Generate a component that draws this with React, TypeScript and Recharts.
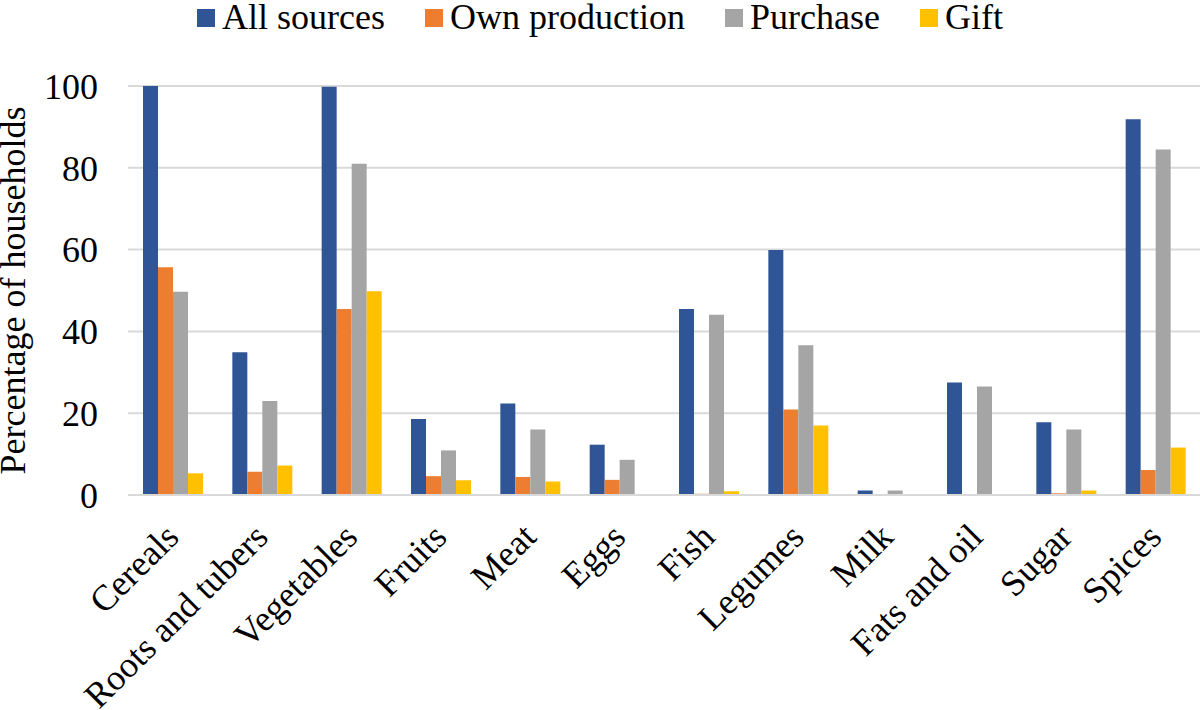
import { BarChart, Bar, XAxis, YAxis, CartesianGrid, Label } from "recharts";

const categories = [
  "Cereals",
  "Roots and tubers",
  "Vegetables",
  "Fruits",
  "Meat",
  "Eggs",
  "Fish",
  "Legumes",
  "Milk",
  "Fats and oil",
  "Sugar",
  "Spices",
];

const allSources = [100, 34.9, 99.8, 18.6, 22.4, 12.3, 45.5, 59.9, 1.1, 27.5, 17.8, 91.9];
const ownProduction = [55.7, 5.7, 45.5, 4.6, 4.4, 3.7, 0.3, 20.9, 0, 0, 0.4, 6.1];
const purchase = [49.7, 23.0, 81.0, 10.9, 16.0, 8.6, 44.1, 36.6, 1.1, 26.5, 16.0, 84.5];
const gift = [5.3, 7.2, 49.8, 3.6, 3.3, 0, 0.9, 17.0, 0, 0, 1.1, 11.6];

const yTicks = [0, 20, 40, 60, 80, 100];

const series = [
  { key: "all", name: "All sources", color: "#2F5597" },
  { key: "own", name: "Own production", color: "#ED7D31" },
  { key: "purchase", name: "Purchase", color: "#A5A5A5" },
  { key: "gift", name: "Gift", color: "#FFC000" },
];

const data = categories.map((name, i) => ({
  name,
  all: allSources[i],
  own: ownProduction[i],
  purchase: purchase[i],
  gift: gift[i],
}));

const FONT = "Liberation Serif, Tinos, Times New Roman, serif";
const FS = 36;
const GRID = "#D9D9D9";

// rotated category label, end of the text sits just right of the category centre
function CategoryTick(props: any) {
  const { x, y, payload } = props;
  return (
    <g transform={`translate(${x + 8},${y + 44})`}>
      <text textAnchor="end" transform="rotate(-45)" style={{ fontSize: FS, fontFamily: FONT }} fill="#000">
        {payload.value}
      </text>
    </g>
  );
}

function YTitle(props: any) {
  const { viewBox } = props;
  const cx = viewBox.x + 25;
  const cy = viewBox.y + viewBox.height / 2;
  return (
    <text
      x={cx}
      y={cy}
      transform={`rotate(-90, ${cx}, ${cy})`}
      textAnchor="middle"
      style={{ fontSize: FS, fontFamily: FONT }}
      fill="#000"
    >
      Percentage of households
    </text>
  );
}

function LegendRow() {
  return (
    <div
      style={{
        position: "absolute",
        left: 197,
        top: 0,
        display: "flex",
        fontFamily: FONT,
        fontSize: FS,
        lineHeight: "35px",
        whiteSpace: "nowrap",
      }}
    >
      {series.map((s) => (
        <div key={s.key} style={{ display: "flex", alignItems: "center", marginRight: 40 }}>
          <span style={{ width: 18, height: 18, background: s.color, marginRight: 7, display: "inline-block" }} />
          <span>{s.name}</span>
        </div>
      ))}
    </div>
  );
}

export default function App() {
  return (
    <div style={{ position: "absolute", left: 0, top: 0, width: 1200, height: 710, background: "#fff" }}>
      <BarChart
        width={1200}
        height={710}
        data={data}
        margin={{ top: 86, right: 0, bottom: 0, left: 0 }}
        barGap={0}
      >
        <CartesianGrid vertical={false} stroke={GRID} strokeWidth={2} />
        <XAxis
          dataKey="name"
          height={215}
          interval={0}
          tickSize={0}
          tickMargin={0}
          tickLine={false}
          axisLine={{ stroke: GRID, strokeWidth: 2 }}
          tick={<CategoryTick />}
        />
        <YAxis
          width={128}
          domain={[0, 100]}
          ticks={yTicks}
          tickSize={0}
          tickMargin={30}
          tickLine={false}
          axisLine={false}
          tick={{ fontSize: FS, fill: "#000", style: { fontFamily: FONT } }}
        >
          <Label content={<YTitle />} />
        </YAxis>
        {series.map((s) => (
          <Bar key={s.key} dataKey={s.key} name={s.name} fill={s.color} barSize={15} isAnimationActive={false} />
        ))}
      </BarChart>
      <LegendRow />
    </div>
  );
}
